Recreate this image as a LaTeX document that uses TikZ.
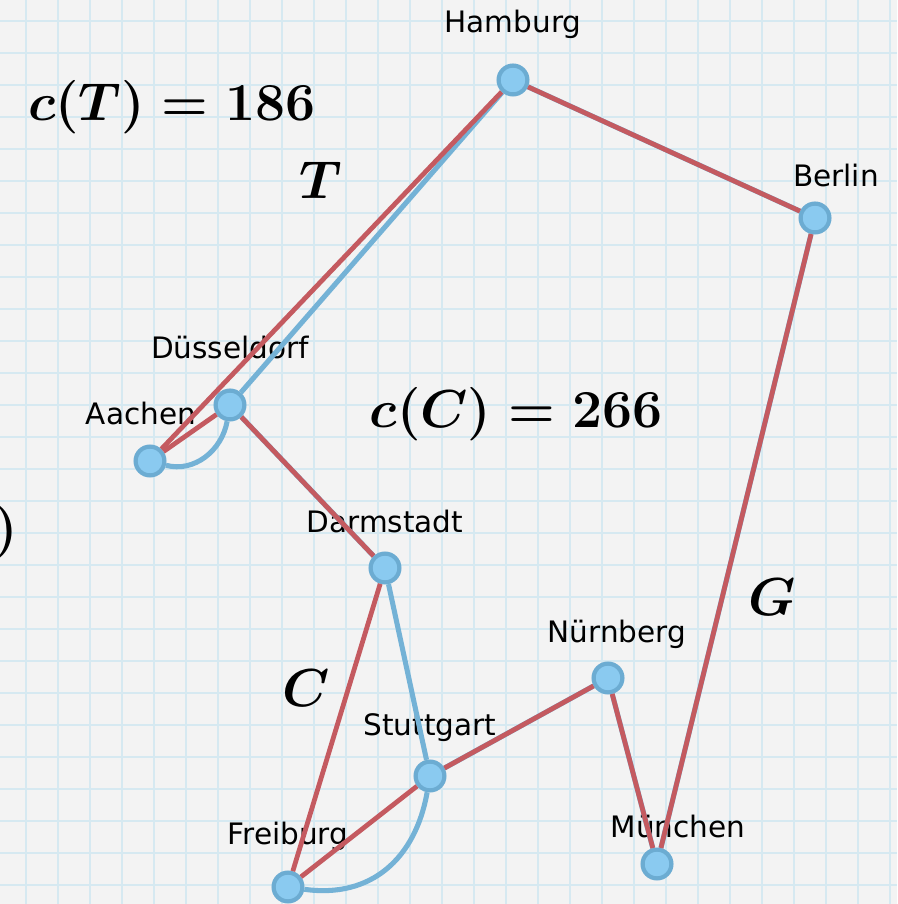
\RequirePackage{fix-cm}
\documentclass[tikz,border=0pt]{standalone}
\usepackage{amsmath,amssymb}
\usepackage{fontspec}
\newfontfamily\cityfont{DejaVu Sans}
\usepackage{tikz}
\usetikzlibrary{positioning}
\definecolor{tourred}{RGB}{196, 90, 96}
\definecolor{treeblue}{RGB}{116, 178, 214}
\definecolor{cityfill}{RGB}{138, 202, 240}
\definecolor{cityborder}{RGB}{108, 172, 210}
\definecolor{paper}{RGB}{243, 243, 243}
\definecolor{gridblue}{RGB}{214, 233, 241}
\tikzset{
  city/.style={
    circle,
    draw=cityborder,
    line width=3pt,
    fill=cityfill,
    minimum size=7.2mm,
    inner sep=0pt
  },
  city name/.style={
    inner sep=0pt,
    font=\cityfont\fontsize{21}{24}\selectfont
  },
  math label/.style={
    inner sep=0pt,
    font=\fontsize{38}{42}\selectfont
  },
  tour/.style={
    draw=tourred,
    line width=3.4pt
  },
  tree/.style={
    draw=treeblue,
    line width=3.6pt
  },
  paper line/.style={
    draw=gridblue,
    line width=2pt
  }
}

\begin{document}
\begin{tikzpicture}
  \useasboundingbox (0,0) rectangle (22.425,22.6);
  \fill[paper] (0,0) rectangle (22.425,22.6);
  \foreach \k in {0,...,27} {
    \draw[paper line] ({0.65+0.8*\k},0) -- ({0.65+0.8*\k},22.6);
    \draw[paper line] (0,{22.075-0.8*\k}) -- (22.425,{22.075-0.8*\k});
  }

  % cities
  \node[city] (hh) at (12.825, 20.6) {};
  \node[city] (be) at (20.375, 17.15) {};
  \node[city] (du) at (5.75, 12.475) {};
  \node[city] (aa) at (3.75, 11.075) {};
  \node[city] (da) at (9.625, 8.4) {};
  \node[city] (nu) at (15.2, 5.65) {};
  \node[city] (st) at (10.75, 3.2) {};
  \node[city] (fr) at (7.2, 0.425) {};
  \node[city] (mu) at (16.425, 1.0) {};

  \node[city name] (hhname) at (12.825, 22.0) {Hamburg};
  \node[city name] (bename) at (20.9, 18.2) {Berlin};
  \node[city name] (duname) at (5.75, 13.9) {Düsseldorf};
  \node[city name] (aaname) at (3.525, 12.275) {Aachen};
  \node[city name] (daname) at (9.625, 9.575) {Darmstadt};
  \node[city name] (nuname) at (15.425, 6.75) {Nürnberg};
  \node[city name] (stname) at (10.75, 4.4) {Stuttgart};
  \node[city name] (frname) at (7.2, 1.7) {Freiburg};
  \node[city name] (muname) at (16.95, 1.95) {München};

  % tree plus matching
  \path (hh) edge[tree] (du)
        (hh) edge[tree] (be)
        (du) edge[tree] (da)
        (du) edge[tree, out=-100, in=-15] (aa)
        (da) edge[tree] (st)
        (st) edge[tree] (nu)
        (st) edge[tree, out=-100, in=-8, looseness=1.1] (fr)
        (nu) edge[tree] (mu)
        (be) edge[tree] (mu);

  % tour
  \path (hh) edge[tour] (aa)
        (aa) edge[tour] (du)
        (du) edge[tour] (da)
        (da) edge[tour] (fr)
        (fr) edge[tour] (st)
        (st) edge[tour] (nu)
        (nu) edge[tour] (mu)
        (mu) edge[tour] (be)
        (be) edge[tour] (hh);

  \node[math label] (costT) at (4.3, 19.925) {$\boldsymbol{c(T) = 186}$};
  \node[math label] (nameT) at (8.025, 18.1) {$\boldsymbol{T}$};
  \node[math label] (costC) at (12.9, 12.25) {$\boldsymbol{c(C) = 266}$};
  \node[math label] (nameC) at (7.65, 5.4) {$\boldsymbol{C}$};
  \node[math label] (nameG) at (19.3, 7.675) {$\boldsymbol{G}$};
  \node[math label, anchor=east] (paren) at (0.45, 9.3) {$\boldsymbol{)}$};
\end{tikzpicture}
\end{document}
